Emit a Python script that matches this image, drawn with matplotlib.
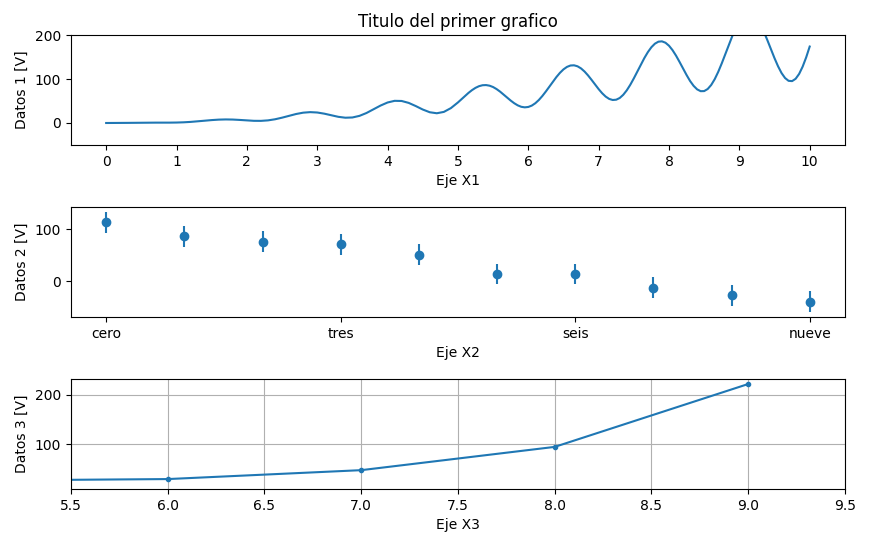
import numpy as np
import matplotlib
matplotlib.use('Agg')
import matplotlib.pyplot as plt

# Datos del primer grafico (paso 0.1 hasta 5, luego 0.05)
x1 = [i / 10 for i in range(50)] + [5 + i / 20 for i in range(101)]
y1 = [0.0, 0.025, 0.114, 0.27, 0.465, 0.65, 0.771, 0.808, 0.796, 0.828,
      1.041, 1.566, 2.478, 3.744, 5.208, 6.611, 7.653, 8.088, 7.815, 6.949,
      5.824, 4.941, 4.84, 5.949, 8.429, 12.086, 16.361, 20.44, 23.446, 24.683,
      23.853, 21.204, 17.532, 14.028, 12.006, 12.549, 16.187, 22.691, 31.045, 39.63,
      46.606, 50.378, 50.039, 45.685, 38.548, 30.634, 24.414, 22.139, 25.215, 33.823,
      46.69, 53.99, 61.36, 68.40, 74.70, 79.90, 83.69, 85.84, 86.21, 84.79,
      81.71, 77.02, 71.22, 64.62, 57.72, 50.98, 44.96, 40.10, 36.81, 35.56,
      36.43, 39.56, 44.91, 52.28, 61.35, 71.68, 82.71, 93.87, 104.51, 114.02,
      121.85, 127.51, 130.68, 131.14, 128.89, 124.05, 116.95, 108.05, 97.95, 87.37,
      77.02, 67.67, 60.03, 54.74, 52.27, 52.96, 56.86, 64.13, 74.28, 86.91,
      101.37, 116.91, 132.64, 147.69, 161.15, 172.26, 180.32, 184.86, 185.58, 182.46,
      175.69, 165.69, 153.16, 138.86, 123.82, 109.04, 95.40, 84.43, 76.45, 72.34,
      72.53, 77.25, 86.40, 99.62, 116.28, 135.50, 156.25, 177.36, 197.62, 215.85,
      230.92, 241.99, 248.31, 249.56, 245.60, 236.75, 223.47, 206.78, 187.64, 167.37,
      147.33, 128.96, 113.51, 102.20, 95.83, 95.21, 100.48, 111.58, 128.16, 149.20,
      173.76]

# Datos del segundo grafico
categorias = ['cero', 'uno', 'dos', 'tres', 'cuatro', 'cinco', 'seis', 'siete', 'ocho', 'nueve']
y2 = [113, 86, 76, 71, 51, 14, 14, -12, -27, -39]
err2 = [20, 20, 20, 20, 20, 20, 20, 20, 20, 20]

# Datos del tercer grafico
x3 = [4, 5, 6, 7, 8, 9]
y3 = [19.5, 26.5, 29.5, 47.5, 94.5, 221.5]

fig, (ax1, ax2, ax3) = plt.subplots(3, 1, figsize=(8.71, 5.47), dpi=100)
fig.subplots_adjust(left=0.0815, right=0.970, top=0.936, bottom=0.106, hspace=0.564)

ax1.plot(x1, y1)
ax1.set_ylim(-50, 200)
ax1.set_xticks(range(11))
ax1.set_title('Titulo del primer grafico')
ax1.set_xlabel('Eje X1')
ax1.set_ylabel('Datos 1 [V]')

pos = np.arange(len(categorias))
ax2.errorbar(pos, y2, yerr=err2, fmt='o')
ax2.set_xticks(pos[::3])
ax2.set_xticklabels(categorias[::3])
ax2.set_xlabel('Eje X2')
ax2.set_ylabel('Datos 2 [V]')

ax3.plot(x3, y3, '.-')
ax3.set_xlim(5.5, 9.5)
ax3.grid(True)
ax3.set_xlabel('Eje X3')
ax3.set_ylabel('Datos 3 [V]')

fig.savefig('out.png')
